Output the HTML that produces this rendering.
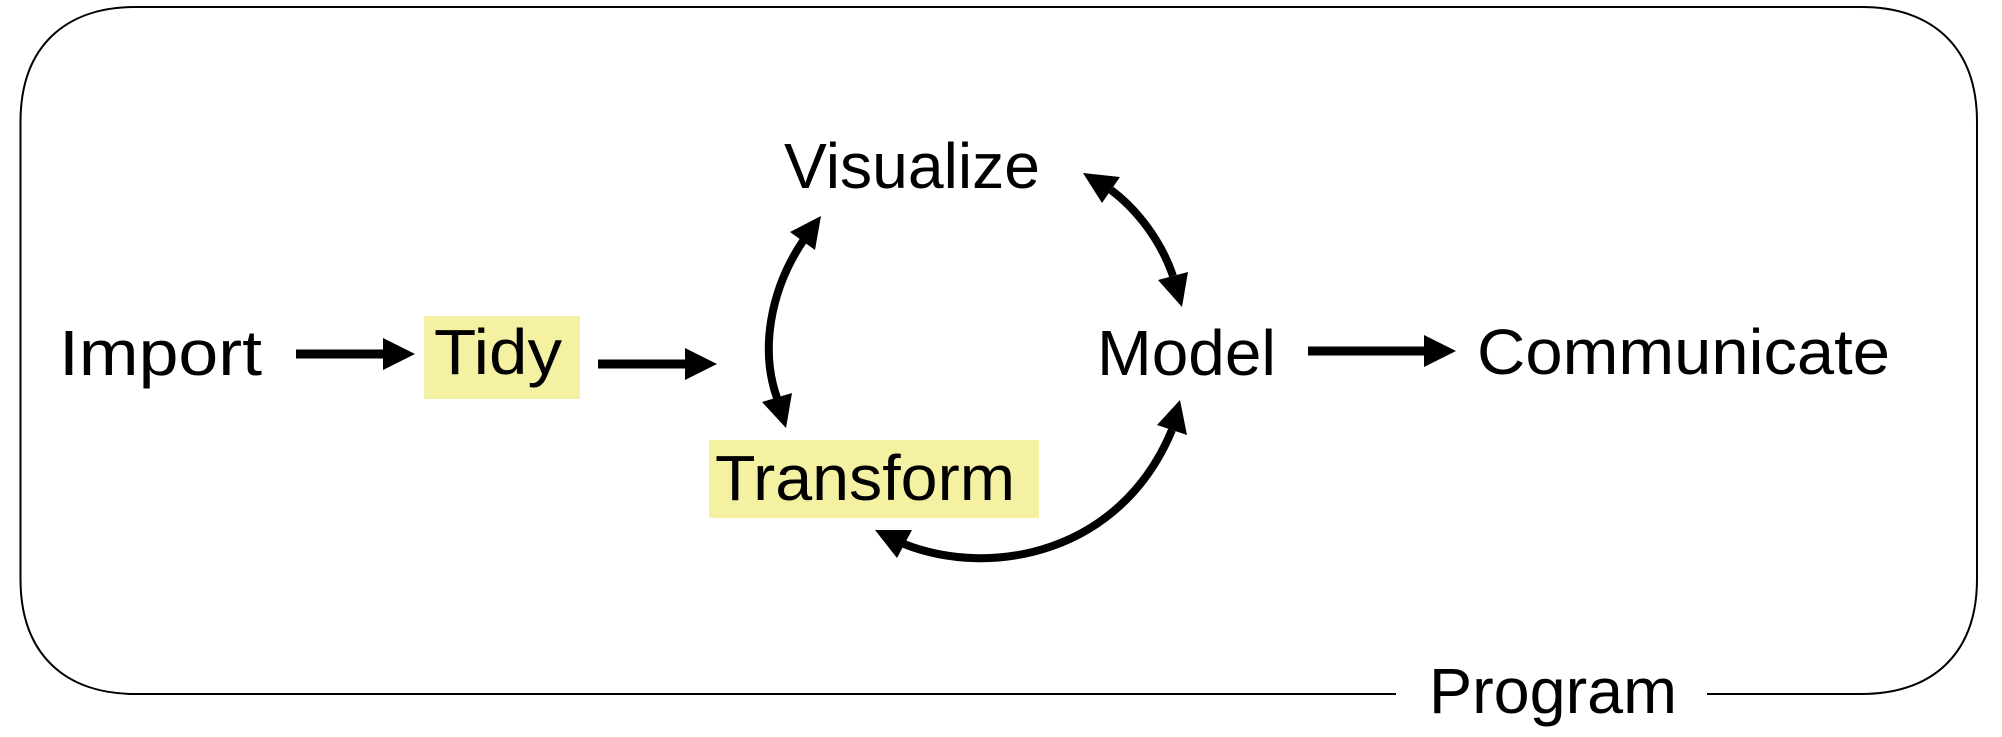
<!DOCTYPE html>
<html>
<head>
<meta charset="utf-8">
<style>
  html, body { margin: 0; padding: 0; background: #fff; }
  body { width: 2002px; height: 737px; overflow: hidden; }
  svg { display: block; }
  text { font-family: "Liberation Sans", "DejaVu Sans", sans-serif; font-size: 64px; fill: #000; }
</style>
</head>
<body>
<svg width="2002" height="737" viewBox="0 0 2002 737" xmlns="http://www.w3.org/2000/svg">
  <!-- Outer rounded frame -->
  <path d="M 135,7 H 1862 C 1930,7 1977,45 1977,122 V 579 C 1977,656 1930,694 1862,694 H 135 C 67,694 20.5,656 20.5,579 V 122 C 20.5,45 67,7 135,7 Z"
        fill="none" stroke="#000" stroke-width="2"/>
  <!-- gap for Program label -->
  <rect x="1396" y="686" width="311" height="16" fill="#fff"/>

  <!-- Highlights -->
  <rect x="424" y="316" width="156" height="83" fill="#f4f1a2"/>
  <rect x="709" y="440" width="330" height="78" fill="#f4f1a2"/>

  <!-- Labels -->
  <text x="59" y="375" textLength="203" lengthAdjust="spacingAndGlyphs">Import</text>
  <text x="434" y="374" textLength="128" lengthAdjust="spacingAndGlyphs">Tidy</text>
  <text x="784" y="188" textLength="256" lengthAdjust="spacingAndGlyphs">Visualize</text>
  <text x="715" y="500" textLength="300" lengthAdjust="spacingAndGlyphs">Transform</text>
  <text x="1097" y="375" textLength="179" lengthAdjust="spacingAndGlyphs">Model</text>
  <text x="1477" y="374" textLength="413" lengthAdjust="spacingAndGlyphs">Communicate</text>
  <text x="1429" y="713" textLength="248" lengthAdjust="spacingAndGlyphs">Program</text>

  <!-- Straight arrows -->
  <line x1="296" y1="354" x2="386" y2="354" stroke="#000" stroke-width="9"/>
  <polygon points="383,338 415,354 383,370" fill="#000"/>

  <line x1="598" y1="364" x2="688" y2="364" stroke="#000" stroke-width="9"/>
  <polygon points="685,348 717,364 685,380" fill="#000"/>

  <line x1="1308" y1="351" x2="1427" y2="351" stroke="#000" stroke-width="9"/>
  <polygon points="1424,335 1456,351 1424,367" fill="#000"/>

  <!-- Left arc: Visualize <-> Transform -->
  <path d="M 803,241 C 770,290 760,350 777,398" fill="none" stroke="#000" stroke-width="8"/>
  <polygon points="821,216 790,232 815,250" fill="#000"/>
  <polygon points="786,428 762,402 792,393" fill="#000"/>

  <!-- Upper-right arc: Visualize <-> Model -->
  <path d="M 1111,190 C 1135,208 1160,238 1173,276" fill="none" stroke="#000" stroke-width="8"/>
  <polygon points="1083,173 1120,177 1102,203" fill="#000"/>
  <polygon points="1182,307 1158,280 1188,272" fill="#000"/>

  <!-- Lower arc: Transform <-> Model -->
  <path d="M 904,544 C 990,578 1120,555 1172,430" fill="none" stroke="#000" stroke-width="8"/>
  <polygon points="875,530 912,530 897,558" fill="#000"/>
  <polygon points="1180,400 1157,425 1187,435" fill="#000"/>
</svg>
</body>
</html>
